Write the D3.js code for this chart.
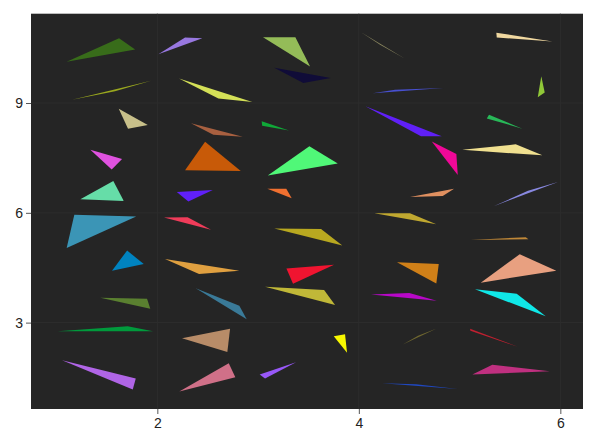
<!DOCTYPE html>
<html>
<head>
<meta charset="utf-8">
<script src="https://cdn.jsdelivr.net/npm/d3@7"></script>
<style>
  body { margin: 0; background: #fff; }
  svg { display: block; }
  .tick text { font-family: "Liberation Sans", Arial, sans-serif; font-size: 14px; fill: #222; }
</style>
</head>
<body>
<div id="chart"></div>
<script>
// vertices of each triangle (data units), column by column, top to bottom
const triX = [
  [1.10, 1.62, 1.78], [1.153, 1.937, 1.58], [1.617, 1.905, 1.709], [1.335, 1.650, 1.547], [1.236, 1.563, 1.667],
  [1.10, 1.176, 1.79], [1.55, 1.70, 1.865], [1.434, 1.898, 1.93], [1.011, 1.706, 1.957], [1.054, 1.786, 1.756],
  [2.01, 2.275, 2.447], [2.215, 2.606, 2.943], [2.334, 2.556, 2.848], [2.275, 2.474, 2.828], [2.193, 2.308, 2.55],
  [2.066, 2.30, 2.533], [2.076, 2.414, 2.814], [2.381, 2.814, 2.887], [2.245, 2.722, 2.695], [2.218, 2.709, 2.774],
  [3.049, 3.370, 3.516], [3.161, 3.449, 3.721], [3.036, 3.040, 3.307], [3.096, 3.509, 3.791], [3.092, 3.280, 3.334],
  [3.161, 3.625, 3.836], [3.281, 3.754, 3.347], [3.069, 3.655, 3.764], [3.751, 3.863, 3.883], [3.016, 3.377, 3.069],
  [4.022, 4.459, 4.211], [4.138, 4.839, 4.359], [4.065, 4.617, 4.823], [4.724, 4.968, 4.982], [4.508, 4.945, 4.833],
  [4.154, 4.508, 4.769], [4.379, 4.793, 4.769], [4.121, 4.501, 4.773], [4.436, 4.773, 4.588], [4.230, 4.982, 4.568],
  [5.365, 5.369, 5.921], [5.811, 5.845, 5.776], [5.27, 5.292, 5.623], [5.027, 5.557, 5.822], [5.338, 5.977, 5.679],
  [5.111, 5.657, 5.683], [5.21, 5.597, 5.96], [5.153, 5.567, 5.855], [5.104, 5.577, 5.107], [5.127, 5.325, 5.895]
];
const triY = [
  [10.13, 10.77, 10.46], [9.09, 9.61, 9.32], [8.84, 8.40, 8.30], [7.72, 7.47, 7.18], [6.37, 6.87, 6.32],
  [5.04, 5.95, 5.90], [4.42, 4.97, 4.60], [3.68, 3.65, 3.38], [2.765, 2.90, 2.765], [1.97, 1.47, 1.17],
  [10.33, 10.79, 10.77], [9.67, 9.125, 9.03], [8.45, 8.13, 8.08], [7.16, 7.94, 7.14], [6.57, 6.31, 6.62],
  [5.87, 5.88, 5.54], [4.74, 4.33, 4.42], [3.94, 3.46, 3.09], [2.57, 2.83, 2.20], [1.12, 1.89, 1.51],
  [10.80, 10.80, 10.0], [9.96, 9.55, 9.68], [8.50, 8.38, 8.25], [7.02, 7.82, 7.35], [6.66, 6.66, 6.40],
  [5.57, 5.56, 5.11], [4.48, 4.58, 4.06], [3.98, 3.89, 3.48], [2.63, 2.68, 2.18], [1.58, 1.92, 1.47],
  [10.93, 10.21, 10.59], [9.27, 9.41, 9.36], [8.91, 8.09, 8.09], [7.95, 7.61, 7.03], [6.43, 6.66, 6.46],
  [5.99, 5.99, 5.69], [4.65, 4.60, 4.07], [3.77, 3.81, 3.60], [2.40, 2.84, 2.64], [1.343, 1.187, 1.313],
  [10.92, 10.79, 10.68], [9.73, 9.29, 9.16], [8.58, 8.68, 8.30], [7.72, 7.87, 7.57], [6.18, 6.84, 6.60],
  [5.26, 5.335, 5.28], [4.09, 4.87, 4.42], [3.91, 3.79, 3.175], [2.835, 2.34, 2.78], [1.58, 1.85, 1.67]
];
const colors = [
  "#386c1a", "#9aa81e", "#c8c08a", "#e052e0", "#66dda8", "#3b95b6", "#0083c0", "#5a8030", "#009a3c", "#b065e6",
  "#9878e0", "#d4e057", "#a86040", "#c85a08", "#6020f8", "#f03c5a", "#e0a040", "#3a7a98", "#b88c68", "#d07088",
  "#94bc58", "#100c38", "#10a838", "#50f878", "#f07030", "#b8a820", "#f01430", "#c0b838", "#f8f800", "#9858f8",
  "#8c8860", "#4850d0", "#6020f8", "#f00898", "#e09060", "#c0a830", "#d08018", "#b808c8", "#706830", "#2048c0",
  "#f0d8a0", "#90c838", "#28b858", "#f0e090", "#8888e0", "#c08838", "#e8a080", "#10e8e8", "#c02030", "#c03080"
];
const xTicks = [2, 4, 6];
const yTicks = [3, 6, 9];
const xDomain = [0.746, 6.225];
const yDomain = [0.64, 11.44];

const width = 596, height = 446;
const margin = { top: 13.7, right: 13, bottom: 37, left: 31 };

const svg = d3.select('#chart').append('svg')
  .attr('width', width)
  .attr('height', height);

const x = d3.scaleLinear().domain(xDomain).range([margin.left, width - margin.right]);
const y = d3.scaleLinear().domain(yDomain).range([height - margin.bottom, margin.top]);

// plot background
svg.append('rect')
  .attr('x', margin.left)
  .attr('y', margin.top)
  .attr('width', width - margin.left - margin.right)
  .attr('height', height - margin.top - margin.bottom)
  .attr('fill', '#252525');

// grid
const grid = svg.append('g').attr('stroke', '#2d2d2d').attr('stroke-width', 1);
grid.selectAll('.gx').data(xTicks).join('line')
  .attr('x1', d => x(d)).attr('x2', d => x(d))
  .attr('y1', margin.top).attr('y2', height - margin.bottom);
grid.selectAll('.gy').data(yTicks).join('line')
  .attr('y1', d => y(d)).attr('y2', d => y(d))
  .attr('x1', margin.left).attr('x2', width - margin.right);

// triangles
const tris = triX.map((xs, i) => xs.map((v, k) => [v, triY[i][k]]));
svg.append('g').selectAll('polygon')
  .data(tris)
  .join('polygon')
  .attr('points', d => d.map(p => x(p[0]) + ',' + y(p[1])).join(' '))
  .attr('fill', (d, i) => colors[i]);

// axes
const xAxis = svg.append('g')
  .attr('transform', `translate(0,${height - margin.bottom})`)
  .call(d3.axisBottom(x).tickValues(xTicks).tickFormat(d3.format('d')).tickSize(5).tickPadding(4));
const yAxis = svg.append('g')
  .attr('transform', `translate(${margin.left},0)`)
  .call(d3.axisLeft(y).tickValues(yTicks).tickFormat(d3.format('d')).tickSize(5).tickPadding(3));
[xAxis, yAxis].forEach(a => {
  a.select('.domain').remove();
  a.selectAll('.tick line').attr('stroke', '#555');
});
</script>
</body>
</html>
